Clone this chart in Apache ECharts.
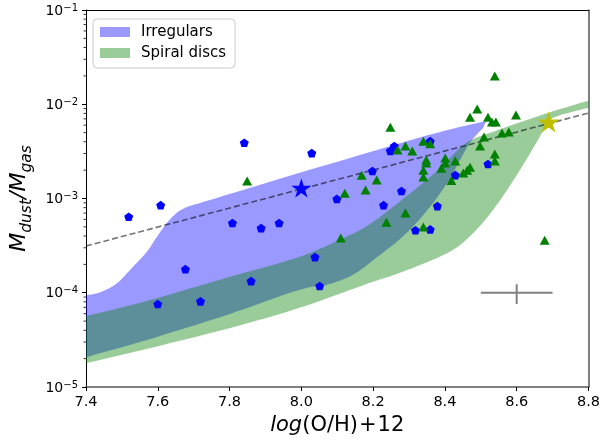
<!DOCTYPE html>
<html><head><meta charset="utf-8">
<script src="https://cdn.jsdelivr.net/npm/echarts@6/dist/echarts.min.js"></script>
<style>html,body{margin:0;padding:0;background:#fff}#c{width:603px;height:443px}</style>
</head><body><div id="c"></div>
<script>
// ---- tick values ----
const xTicks = [7.4, 7.6, 7.8, 8.0, 8.2, 8.4, 8.6, 8.8];
const yMinorTicks = [2e-5,3e-5,4e-5,5e-5,6e-5,7e-5,8e-5,9e-5,
  2e-4,3e-4,4e-4,5e-4,6e-4,7e-4,8e-4,9e-4,
  2e-3,3e-3,4e-3,5e-3,6e-3,7e-3,8e-3,9e-3,
  2e-2,3e-2,4e-2,5e-2,6e-2,7e-2,8e-2,9e-2];

// ---- Irregulars band (boundaries) ----
const irrUpX = [7.400, 7.439, 7.486, 7.530, 7.569, 7.597, 7.625, 7.652, 7.680, 7.716, 7.855, 7.993, 8.354, 8.515];
const irrUpY = [9.4e-5, 1.01e-4, 1.26e-4, 1.87e-4, 2.70e-4, 3.89e-4, 5.48e-4, 7.0e-4, 8.1e-4, 8.93e-4, 1.29e-3, 1.86e-3, 4.71e-3, 6.64e-3];
const irrLoX = [7.400, 7.577, 7.799, 7.993, 8.076, 8.146, 8.215, 8.271, 8.320, 8.373, 8.415, 8.442, 8.473, 8.506];
const irrLoY = [2.07e-5, 3.22e-5, 5.93e-5, 1.07e-4, 1.23e-4, 1.57e-4, 2.45e-4, 3.61e-4, 5.48e-4, 9.6e-4, 1.65e-3, 2.56e-3, 4.06e-3, 5.58e-3];

// ---- Spiral discs band (boundaries) ----
const spUpX = [7.400, 7.577, 7.799, 7.993, 8.104, 8.187, 8.279, 8.381, 8.459, 8.548, 8.686, 8.800];
const spUpY = [5.65e-5, 8.33e-5, 1.47e-4, 2.39e-4, 3.61e-4, 5.22e-4, 9.6e-4, 2.0e-3, 3.87e-3, 5.32e-3, 8.07e-3, 1.09e-2];
const spLoX = [7.400, 7.577, 7.799, 7.993, 8.187, 8.271, 8.373, 8.437, 8.497, 8.548, 8.595, 8.631, 8.659, 8.689, 8.714, 8.800];
const spLoY = [1.79e-5, 2.58e-5, 4.21e-5, 6.87e-5, 1.26e-4, 1.61e-4, 2.3e-4, 3.1e-4, 5.09e-4, 8.93e-4, 1.65e-3, 2.75e-3, 4.17e-3, 6.47e-3, 7.5e-3, 9.2e-3];

// ---- Irregular galaxies (pentagons) ----
const irrGalX = [7.519, 7.608, 7.841, 7.808, 7.888, 7.938, 7.677, 7.860, 7.600, 7.719,
  8.029, 8.099, 8.038, 8.051, 8.198, 8.318, 8.359, 8.259, 8.248, 8.359, 8.279, 8.429, 8.520, 8.229, 8.379];
const irrGalY = [6.4e-4, 8.5e-4, 3.9e-3, 5.5e-4, 4.85e-4, 5.5e-4, 1.78e-4, 1.33e-4, 7.6e-5, 8.1e-5,
  3.03e-3, 9.9e-4, 2.39e-4, 1.18e-4, 1.96e-3, 4.6e-4, 4.7e-4, 3.6e-3, 3.2e-3, 4.06e-3, 1.2e-3, 1.77e-3, 2.32e-3, 8.5e-4, 8.3e-4];

// ---- Spiral galaxies (triangles) ----
const spGalX = [7.849, 8.121, 8.168, 8.210, 8.179, 8.110, 8.237, 8.340, 8.678, 8.290,
  8.418, 8.248, 8.539, 8.490, 8.470, 8.520, 8.531, 8.542, 8.598, 8.268,
  8.290, 8.309, 8.340, 8.359, 8.348, 8.348, 8.340, 8.340, 8.401, 8.401,
  8.390, 8.429, 8.451, 8.462, 8.470, 8.498, 8.509, 8.539, 8.539, 8.559, 8.578];
const spGalY = [1.53e-3, 1.14e-3, 1.77e-3, 1.57e-3, 1.23e-3, 3.8e-4, 5.6e-4, 4.97e-4, 3.6e-4, 7.0e-4,
  1.55e-3, 5.7e-3, 1.99e-2, 8.9e-3, 7.3e-3, 7.3e-3, 6.5e-3, 6.5e-3, 7.7e-3, 3.27e-3,
  3.6e-3, 3.2e-3, 4.06e-3, 3.8e-3, 2.56e-3, 2.38e-3, 2.0e-3, 1.69e-3, 2.69e-3, 2.38e-3,
  2.1e-3, 2.5e-3, 1.86e-3, 2.0e-3, 2.15e-3, 3.6e-3, 4.5e-3, 2.96e-3, 2.5e-3, 4.94e-3, 5.07e-3];

// ---- special points ----
const blueStar = [8.0, 1.29e-3];
const yellowStar = [8.689, 6.47e-3];

// ---- dashed relation ----
const fitX = [7.4, 8.8];
const fitY = [3.13e-4, 8.07e-3];

// ---- typical error bar ----
const errCenter = [8.6, 1.0e-4];
const errXRange = [8.5, 8.7];
const errYRange = [7.6e-5, 1.23e-4];

const FONT = 'DejaVu Sans';
const pentagon = 'path://M0,-1L0.951,-0.309L0.588,0.809L-0.588,0.809L-0.951,-0.309Z';
const star = 'path://M0,-1L0.2245,-0.309L0.951,-0.309L0.3633,0.118L0.588,0.809L0,0.382L-0.588,0.809L-0.3633,0.118L-0.951,-0.309L-0.2245,-0.309Z';

function zip(a, b) { return a.map((v, i) => [v, b[i]]); }

// Catmull-Rom smoothing of an open chain of pixel points
function smoothChain(pts) {
  const out = [];
  const n = pts.length;
  for (let i = 0; i < n - 1; i++) {
    const p0 = pts[Math.max(i - 1, 0)], p1 = pts[i], p2 = pts[i + 1], p3 = pts[Math.min(i + 2, n - 1)];
    const steps = 10;
    for (let s = 0; s < steps; s++) {
      const t = s / steps, t2 = t * t, t3 = t2 * t;
      const f = (a, b, c, d) => 0.5 * ((2 * b) + (-a + c) * t + (2 * a - 5 * b + 4 * c - d) * t2 + (-a + 3 * b - 3 * c + d) * t3);
      out.push([f(p0[0], p1[0], p2[0], p3[0]), f(p0[1], p1[1], p2[1], p3[1])]);
    }
  }
  out.push(pts[n - 1]);
  return out;
}

function band(name, upX, upY, loX, loY, color) {
  return {
    type: 'custom', name: name, coordinateSystem: 'cartesian2d',
    data: [[upX[0], upY[0]]], z: 1, silent: true, animation: false,
    itemStyle: { color: color },
    renderItem: function (params, api) {
      const up = smoothChain(upX.map((x, i) => api.coord([x, upY[i]])));
      const lo = smoothChain(loX.map((x, i) => api.coord([x, loY[i]])));
      const pts = up.concat(lo.reverse());
      return { type: 'polygon', shape: { points: pts }, style: { fill: color } };
    }
  };
}

const chart = echarts.init(document.getElementById('c'), null, { renderer: 'canvas' });
chart.setOption({
  animation: false,
  backgroundColor: '#fff',
  grid: { left: 86, right: 12, top: 10, bottom: 56 },
  legend: {
    orient: 'vertical', left: 93, top: 19,
    itemWidth: 30, itemHeight: 10, itemGap: 5,
    padding: [5, 9, 7, 7],
    borderColor: '#cccccc', borderWidth: 1, borderRadius: 4,
    backgroundColor: 'rgba(255,255,255,0.8)',
    textStyle: { fontSize: 15, fontFamily: FONT, color: '#000', lineHeight: 16, padding: [0, 0, 0, 6] },
    data: [{ name: 'Irregulars', icon: 'rect' }, { name: 'Spiral discs', icon: 'rect' }]
  },
  xAxis: [{
    type: 'value', min: 7.4, max: 8.8, interval: 0.2,
    axisLine: { show: true, onZero: false, lineStyle: { color: '#555', width: 1.5 } },
    axisTick: { show: true, length: 4, lineStyle: { color: '#000', width: 1 } },
    axisLabel: { fontSize: 14.5, color: '#000', margin: 8, fontFamily: FONT,
      formatter: v => v.toFixed(1) },
    splitLine: { show: false },
    name: '{i|log}{n|(O/H)}{p|+}{n|12}', nameLocation: 'middle', nameGap: 27,
    nameTextStyle: { fontFamily: FONT, fontSize: 21, color: '#000',
      rich: { i: { fontFamily: FONT, fontSize: 21, fontStyle: 'italic', color: '#000' },
              n: { fontFamily: FONT, fontSize: 21, color: '#000' },
              p: { fontFamily: FONT, fontSize: 21, color: '#000', padding: [0, 1, 0, 1] } } }
  }, {
    type: 'value', position: 'top', min: 7.4, max: 8.8,
    axisLine: { show: true, onZero: false, lineStyle: { color: '#000', width: 1 } },
    axisTick: { show: false }, axisLabel: { show: false }, splitLine: { show: false }
  }],
  yAxis: [{
    type: 'log', logBase: 10, min: 1e-5, max: 0.1,
    axisLine: { show: true, onZero: false, lineStyle: { color: '#000', width: 1 } },
    axisTick: { show: true, length: 4, lineStyle: { color: '#000', width: 1 } },
    axisLabel: {
      color: '#000', margin: 8, fontFamily: FONT,
      formatter: function (v) { const e = Math.round(Math.log10(v)); return '{b|10}{s|\u2212' + Math.abs(e) + '}'; },
      rich: { b: { fontSize: 14, fontFamily: FONT, color: '#000', lineHeight: 16, verticalAlign: 'bottom' },
              s: { fontSize: 10, fontFamily: FONT, color: '#000', lineHeight: 10, verticalAlign: 'top', padding: [1, 0, 0, 0] } }
    },
    splitLine: { show: false },
    name: '{i|M}{s|dust}{i|/M}{s|gas}', nameLocation: 'middle', nameRotate: 90, nameGap: 50,
    nameTextStyle: { fontFamily: FONT, fontSize: 22, color: '#000',
      rich: { i: { fontFamily: FONT, fontSize: 22, fontStyle: 'italic', color: '#000', lineHeight: 30 },
              s: { fontFamily: FONT, fontSize: 15.5, fontStyle: 'italic', color: '#000', lineHeight: 15, verticalAlign: 'bottom' } } }
  }, {
    type: 'value', position: 'right', min: 0, max: 1,
    axisLine: { show: true, onZero: false, lineStyle: { color: '#555', width: 1.5 } },
    axisTick: { show: false }, axisLabel: { show: false }, splitLine: { show: false }
  }],
  series: [
    band('Irregulars', irrUpX, irrUpY, irrLoX, irrLoY, 'rgba(0,0,255,0.4)'),
    band('Spiral discs', spUpX, spUpY, spLoX, spLoY, 'rgba(0,128,0,0.4)'),
    {
      type: 'line', data: zip(fitX, fitY), symbol: 'none', z: 2, silent: true,
      lineStyle: { color: 'rgba(0,0,0,0.55)', width: 1.6, type: [6, 3] }
    },
    {
      type: 'line', data: [[errXRange[0], errCenter[1]], [errXRange[1], errCenter[1]]], symbol: 'none', z: 2,
      lineStyle: { color: '#808080', width: 2 }
    },
    {
      type: 'line', data: [[errCenter[0], errYRange[0]], [errCenter[0], errYRange[1]]], symbol: 'none', z: 2,
      lineStyle: { color: '#808080', width: 2 }
    },
    {
      type: 'scatter', data: zip(irrGalX, irrGalY), symbol: pentagon, symbolSize: [9, 8.6], z: 3,
      itemStyle: { color: '#0000ff', opacity: 1 }
    },
    {
      type: 'scatter', data: zip(spGalX, spGalY), symbol: 'triangle', symbolSize: [10, 9], z: 4,
      itemStyle: { color: '#008000', opacity: 1 }
    },
    {
      type: 'scatter', data: [blueStar], symbol: star, symbolSize: [20, 19], z: 5,
      itemStyle: { color: '#0000ff', opacity: 1 }
    },
    {
      type: 'scatter', data: [yellowStar], symbol: star, symbolSize: [22, 21], z: 5,
      itemStyle: { color: '#bfbf00', opacity: 1 }
    },
    {
      type: 'custom', coordinateSystem: 'cartesian2d', data: yMinorTicks.map(v => [xTicks[0], v]),
      z: 6, silent: true, clip: false,
      renderItem: function (params, api) {
        const p = api.coord([api.value(0), api.value(1)]);
        return { type: 'line', shape: { x1: p[0] - 2.5, y1: p[1], x2: p[0], y2: p[1] }, style: { stroke: '#000', lineWidth: 0.8 } };
      }
    }
  ]
});
</script>
</body></html>
